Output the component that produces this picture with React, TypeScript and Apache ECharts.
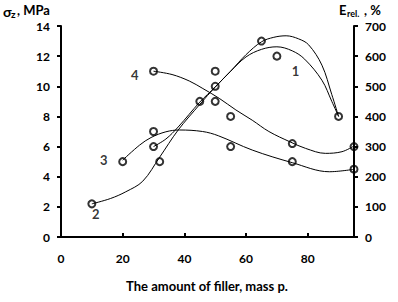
import React, { useEffect, useRef } from "react";
import * as echarts from "echarts";

// Observed data points (x = filler, mass p.; y = σz, MPa on left axis scale)
const points: [number, number][] = [
  [10, 2.2], [20, 5], [30, 11], [30, 7], [30, 6], [32, 5], [45, 9],
  [50, 11], [50, 10], [50, 9], [55, 8], [55, 6], [65, 13], [70, 12],
  [75, 6.2], [75, 5], [90, 8], [95, 6], [95, 4.5],
];

// Trend curves
const curve1: [number, number][] = [
  [30, 6.0], [34, 6.5], [38, 7.3], [45, 8.95], [50, 9.95], [55, 11.0], [60, 11.95],
  [65, 12.45], [70, 12.62], [75, 12.35], [79, 11.8], [84.6, 10.4], [87.8, 9.0], [90, 8.0],
];
const curve2: [number, number][] = [
  [10, 2.2], [16, 2.55], [21, 3.0], [26.5, 3.7], [32, 5.3], [38, 7.1], [45, 8.8],
  [50, 9.95], [55, 11.0], [60, 12.1], [65, 12.95], [69, 13.25], [73, 13.35], [77, 13.15],
  [80.3, 12.75], [84.6, 11.4], [87.8, 9.45], [90, 8.0],
];
const curve3: [number, number][] = [
  [20, 5.1], [25.5, 6.1], [29.2, 6.6], [34, 6.98], [38.4, 7.1], [45.9, 7.0], [51, 6.72],
  [62, 5.77], [75, 4.93], [87, 4.33], [95, 4.49],
];
const curve4: [number, number][] = [
  [30, 11.0], [36, 10.78], [41.6, 10.35], [46, 9.85], [51.3, 9.2], [56.7, 8.43], [62, 7.75],
  [67.4, 7.0], [74.4, 6.3], [79.3, 5.88], [85.7, 5.55], [91.1, 5.66], [95, 6.04],
];

// Curve number labels (data coordinates)
const curveLabels = [
  { name: "1", value: [76, 11.0] },
  { name: "2", value: [11.3, 1.5] },
  { name: "3", value: [13.9, 5.1] },
  { name: "4", value: [23.9, 10.75] },
];

const leftTicks = { min: 0, max: 14, interval: 2 };
const rightTicks = { min: 0, max: 700, interval: 100 };
const xTicks = { min: 0, max: 95, interval: 20 };

const FONT = "Lato, 'DejaVu Sans', sans-serif";

export default function App() {
  const ref = useRef<HTMLDivElement>(null);
  useEffect(() => {
    document.body.style.margin = "0";
    if (!ref.current) return;
    const chart = echarts.init(ref.current, null, { renderer: "svg" });
    const axisLine = { show: true, lineStyle: { color: "#000", width: 2 } };
    const tickStyle = { color: "#000", width: 2 };
    const labelStyle = { color: "#000", fontFamily: FONT, fontWeight: "bold" as const, fontSize: 12 };
    const lineSeries = (data: [number, number][]) => ({
      type: "line",
      data,
      smooth: 0.35,
      symbol: "none",
      lineStyle: { color: "#000", width: 1 },
      z: 2,
    });
    const txt = (text: string, x: number, y: number, size: number) => ({
      type: "text",
      x,
      y,
      style: {
        text,
        fontFamily: FONT,
        fontWeight: "bold",
        fontSize: size,
        fill: "#000",
        align: "left",
        verticalAlign: "middle",
      },
    });
    chart.setOption({
      animation: false,
      grid: { left: 61, right: 44, top: 26, bottom: 65 },
      xAxis: {
        type: "value",
        ...xTicks,
        axisLine,
        axisTick: { show: true, inside: true, length: 4, lineStyle: tickStyle },
        axisLabel: { ...labelStyle, margin: 15, showMaxLabel: false },
        splitLine: { show: false },
      },
      yAxis: [
        {
          type: "value",
          ...leftTicks,
          position: "left",
          axisLine,
          axisTick: { show: true, inside: false, length: 4, lineStyle: tickStyle },
          axisLabel: { ...labelStyle, margin: 11 },
          splitLine: { show: false },
        },
        {
          type: "value",
          ...rightTicks,
          position: "right",
          axisLine,
          axisTick: { show: true, inside: false, length: 4, lineStyle: tickStyle },
          axisLabel: { ...labelStyle, margin: 11 },
          splitLine: { show: false },
        },
      ],
      series: [
        lineSeries(curve1),
        lineSeries(curve2),
        lineSeries(curve3),
        lineSeries(curve4),
        {
          type: "scatter",
          data: points,
          symbol: "circle",
          symbolSize: 7,
          itemStyle: { color: "rgba(255,255,255,0)", borderColor: "#000", borderWidth: 2 },
          z: 3,
        },
        {
          type: "scatter",
          data: curveLabels,
          symbolSize: 1,
          itemStyle: { color: "rgba(0,0,0,0)" },
          label: {
            show: true,
            position: "inside",
            formatter: (p: any) => p.name,
            color: "#000",
            fontFamily: FONT,
            fontWeight: "bold",
            fontSize: 13,
          },
          z: 4,
        },
      ],
      graphic: [
        txt("σ", 3, 11, 14),
        txt("z", 11, 14, 10),
        txt(", MPa", 17, 10, 13),
        txt("E", 339, 10, 13),
        txt("rel.", 347, 13, 9),
        txt(", %", 364, 10, 13),
        {
          type: "text",
          x: 207,
          y: 286,
          style: {
            text: "The amount of filler, mass p.",
            fontFamily: FONT,
            fontWeight: "bold",
            fontSize: 13,
            fill: "#000",
            align: "center",
            verticalAlign: "middle",
          },
        },
      ],
    });
    return () => chart.dispose();
  }, []);
  return <div ref={ref} style={{ width: 398, height: 302 }} />;
}
